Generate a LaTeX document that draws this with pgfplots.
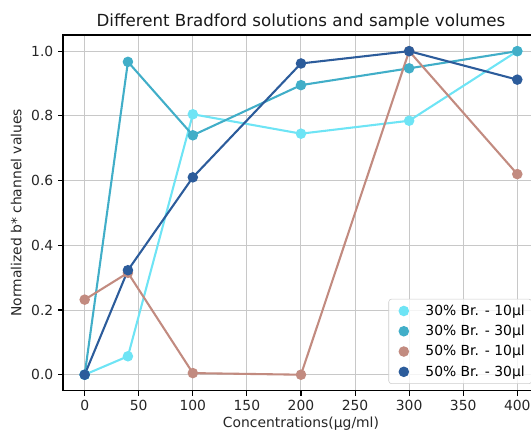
\documentclass[border=0pt]{standalone}
\usepackage{fontspec}
\setmainfont{DejaVu Sans}
\usepackage{pgfplots}
\pgfplotsset{compat=1.18}
\definecolor{cA}{RGB}{110,228,245}
\definecolor{cB}{RGB}{65,174,200}
\definecolor{cC}{RGB}{194,139,128}
\definecolor{cD}{RGB}{44,92,155}
\definecolor{gridgray}{RGB}{200,200,200}
\begin{document}
\begin{tikzpicture}
\begin{axis}[
    name=ax,
    scale only axis, width=342.7pt, height=256.3pt,
    xmin=-20, xmax=420, ymin=-0.05, ymax=1.05,
    xtick={0,50,100,150,200,250,300,350,400},
    ytick={0,0.2,0.4,0.6,0.8,1.0},
    /pgf/number format/assume math mode=true,
    yticklabel style={/pgf/number format/.cd,fixed,fixed zerofill,precision=1},
    xticklabel style={/pgf/number format/.cd,fixed},
    tick label style={font=\fontsize{10}{12}\selectfont, text=black!85},
    label style={font=\fontsize{10}{12}\selectfont, text=black!85},
    xlabel style={yshift=3pt},
    title style={font=\fontsize{12}{14}\selectfont, text=black!90, yshift=-6pt},
    title={Different Bradford solutions and sample volumes},
    xlabel={Concentrations(µg/ml)},
    ylabel={Normalized b* channel values},
    grid=major, grid style={gridgray, line width=0.7pt},
    axis line style={line width=0.8pt},
    tick style={line width=0.8pt, black},
    tick align=outside, major tick length=3.5pt,
    xtick pos=bottom, ytick pos=left,
    every axis plot/.append style={line width=1.5pt, mark=*, mark size=3pt},
    legend image code/.code={\path (0cm,0cm) (0.7cm,0cm); \draw[#1,only marks,fill opacity=1,draw opacity=1] plot coordinates {(0.25cm,0cm)};},
    legend style={at={(1,0)}, anchor=south east, xshift=-5pt, yshift=5pt,
        draw=black!20, rounded corners=2pt, fill=white, fill opacity=0.8, text opacity=1,
        font=\fontsize{10}{12}\selectfont, cells={anchor=west}, row sep=1.5pt},
    legend cell align=left,
]
\addplot[cA, mark options={fill=cA}] coordinates {(0,0) (40,0.057) (100,0.805) (200,0.745) (300,0.785) (400,1.0)};
\addlegendentry{30\% Br. - 10µl}
\addplot[cB, mark options={fill=cB}] coordinates {(0,0) (40,0.967) (100,0.74) (200,0.895) (300,0.947) (400,1.0)};
\addlegendentry{30\% Br. - 30µl}
\addplot[cC, mark options={fill=cC}] coordinates {(0,0.232) (40,0.315) (100,0.005) (200,0.0) (300,1.0) (400,0.62)};
\addlegendentry{50\% Br. - 10µl}
\addplot[cD, mark options={fill=cD}] coordinates {(0,0) (40,0.323) (100,0.61) (200,0.962) (300,1.0) (400,0.912)};
\addlegendentry{50\% Br. - 30µl}
\end{axis}
\pgfresetboundingbox
\path[use as bounding box] ([xshift=-45.4pt,yshift=-29.5pt]ax.south west) rectangle ([xshift=337pt,yshift=25.2pt]ax.north west);
\end{tikzpicture}
\end{document}
